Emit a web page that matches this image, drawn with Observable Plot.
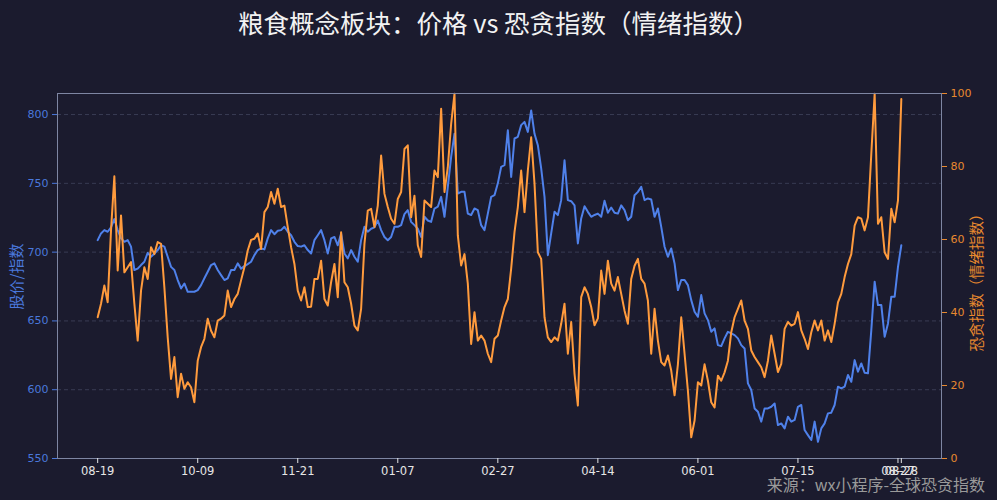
<!DOCTYPE html>
<html><head><meta charset="utf-8">
<script src="https://cdn.jsdelivr.net/npm/d3@7"></script>
<script src="https://cdn.jsdelivr.net/npm/@observablehq/plot@0.6"></script>
<style>
body{margin:0;background:#1b1b2e;}
#wrap{position:relative;width:997px;height:500px;background:#1b1b2e;overflow:hidden;}
#title{position:absolute;top:5px;left:0;width:997px;text-align:center;color:#f2f2f2;font-size:25.5px;font-family:"Noto Sans CJK SC","DejaVu Sans",sans-serif;line-height:34px;}
#cap{position:absolute;right:12px;top:474px;color:#9a9a9a;font-size:16px;font-family:"Noto Sans CJK SC","DejaVu Sans",sans-serif;line-height:20px;}
.ylab{position:absolute;font-family:"Noto Sans CJK SC","DejaVu Sans",sans-serif;font-size:15px;white-space:nowrap;transform-origin:center center;}
#ylL{color:#4a78dc;left:-23px;top:266px;width:76px;text-align:center;transform:rotate(-90deg);}
#ylR{color:#e8892e;left:905px;top:271px;width:140px;text-align:center;transform:rotate(-90deg);font-size:14.5px;}
</style></head><body>
<div id="wrap">
<div id="chart"></div>
<div id="title">粮食概念板块：价格 vs 恐贪指数（情绪指数）</div>
<div id="ylL" class="ylab">股价/指数</div>
<div id="ylR" class="ylab">恐贪指数（情绪指数）</div>
<div id="cap">来源：wx小程序-全球恐贪指数</div>
</div>
<script>
const price = [
708.7,713.6,716,714.8,718,724,716,710,707.5,708.7,
704,687,688,690.6,693,699.5,696.6,699,701.5,705,
704,696.6,689.3,687,679.7,673.6,677.2,671.2,671.2,671.2,
672.4,676,681,685.7,690.6,691.8,687,683.3,679.7,681,
687,687,691.8,688,689.8,691.3,693,697.8,701.5,702.7,
702,710,716,713,715.5,716,718.4,714.8,712.3,707.5,
704.4,704,705,701.5,699,708.7,712.3,716,708.7,699,
710,711,705,713.6,699,695.5,701.5,696.6,693,708.7,
718.4,714.8,717,718,723,716,711,708.7,711,718.4,
718.4,719.6,727.6,730.5,722,719.6,717,711,725.7,723,
722,731.7,733,740.2,725.7,747.5,769.2,786,742.6,743.8,
743.8,728,727,731.7,730.5,719.6,716,728,740.2,741.4,
750,762,763.2,788.6,754.7,782.6,783.8,792.3,794.7,787.4,
803,786,777.7,760.8,740.2,697.8,713.6,729.3,726.9,737.8,
766.8,737.8,737,734,706.3,724.5,733.4,729.3,725.7,727,
728,725.7,737.3,728.6,732.4,728.6,728,734,730.5,723.2,
725.7,741.4,743.8,747.5,737.8,739,738.3,725.7,731.7,718.4,
703.9,696.6,702.7,691.8,672.4,679.7,679.7,676,665.1,656.7,
653,668.8,655.5,650.6,642.1,644.6,632.4,631.7,637.3,642.1,
641,639.7,637.3,632.4,630,604.6,599.8,586.4,584,576.8,
586.4,586.4,587.6,590,574.3,575.5,571.9,580.4,576.8,578,
587.6,588.9,570.7,567,563.4,576.8,562.2,571.9,575.5,582.8,
583.3,588.9,602.2,601,602.2,610.7,605.8,621.5,613.1,619.1,
612.3,611.9,643.3,678.5,661.5,661.5,638.5,648.2,667.6,667.6,
689.3,705
];
const fear = [
38.7,42.4,47.4,42.8,62.5,77.3,51.5,66.6,51,52.4,
53.8,42.4,32.3,46,52.4,49.2,57.9,56,59.3,58.8,
46.9,33.2,21.8,27.8,16.8,23.2,19.1,20.9,19.5,15.4,
26.8,30.5,32.8,38.3,35,33.2,37.8,38.3,39.2,46,
41.5,43.7,45.1,48.8,52.4,57,59.9,60.2,61.6,57.4,
67.5,68.9,73,69.8,73.9,68.9,69.3,63.4,57.9,53.3,
46,43.3,46.9,41.5,41.6,49.2,49.2,54.2,43.7,41.9,
48.3,53.3,44.2,62,48.3,46.9,42.4,36.4,35.1,41,
58.8,67.9,68.4,63.4,69.3,83,72.5,68.9,65.7,64.3,
71.1,73,84.8,85.8,66.1,72,58.4,55.2,70.7,69.8,
68.9,78.9,77.1,95.8,73,79.8,91.7,99.9,61.1,52.9,
56,47.9,31.4,40.1,32.3,33.7,32.3,28.7,26.4,32.8,
33.7,37.8,41.5,43.7,52,62,68.9,78.9,67.5,78.9,
88,75.3,56.5,54.7,38.7,33.2,31.9,33.2,32.3,36.9,
42.4,28.7,37.4,23.2,14.5,44.2,46.9,45.1,41.5,36.5,
38.4,51.5,45.1,54.2,47.9,46,49.7,45.1,40.5,36.9,
49.2,52.8,54.7,49.2,47.9,43.3,28.7,41,32.3,26.4,
25.5,28.2,24.1,17.3,25.8,38.7,28.7,18.6,5.8,10.4,
20.9,20,25.8,21.3,15.4,14,22.7,21.3,23.6,26.8,
34.6,38.7,41,43.3,37.8,35.5,29.6,27.8,26.4,25,
22.3,26.8,33.7,28.7,23.7,25.9,35.5,37.4,36.4,36.9,
40.1,35.1,32.8,30,34.6,37.8,35.1,37.8,32.3,35.1,
31.9,36.9,42.8,45.1,49.7,53.3,56,63.8,66.1,65.7,
62.5,66.1,83.5,99.9,64.3,66.1,56.5,54.7,68.4,64.7,
70.7,98.5
];
const tickIdx = [0,30,60,90,120,150,180,210,240,241];
const tickLabels = ["08-19","10-09","11-21","01-07","02-27","04-14","06-01","07-15","08-27","08-28"];
const leftTicks = [550,600,650,700,750,800];
const rightTicks = [0,20,40,60,80,100];

const yMin = 550, yMax = 815.3;
const toLeft = f => yMin + f * (yMax - yMin) / 100;
const fromLeft = v => (v - yMin) * 100 / (yMax - yMin);
const n = price.length;
const pad = (n - 1) * 0.05;
const priceData = price.map((v, i) => ({i, v}));
const fearData = fear.map((v, i) => ({i, v: toLeft(v)}));
const labelOf = new Map(tickIdx.map((t, k) => [t, tickLabels[k]]));

const chart = Plot.plot({
  width: 997, height: 500,
  marginTop: 93, marginBottom: 42, marginLeft: 57, marginRight: 56,
  style: {background: "transparent", fontFamily: "DejaVu Sans, sans-serif"},
  x: {type: "linear", domain: [-pad, n - 1 + pad], axis: null},
  y: {domain: [yMin, yMax], axis: null},
  marks: [
    Plot.ruleY(leftTicks.filter(t => t > yMin), {stroke: "#3c3f58", strokeWidth: 0.9, strokeDasharray: "4,3"}),
    Plot.line(priceData, {x: "i", y: "v", stroke: "#4f81ea", strokeWidth: 2}),
    Plot.line(fearData, {x: "i", y: "v", stroke: "#ff9b3d", strokeWidth: 2}),
    Plot.frame({stroke: "#7e86a2", strokeWidth: 1}),
    Plot.axisY(leftTicks, {anchor: "left", color: "#4a78dc", tickSize: 5, tickPadding: 4, fontSize: 11, label: null}),
    Plot.axisY(rightTicks.map(toLeft), {anchor: "right", color: "#e8892e", tickSize: 5, tickPadding: 4, fontSize: 11, label: null, tickFormat: d => String(Math.round(fromLeft(d)))}),
    Plot.axisX(tickIdx, {anchor: "bottom", color: "#e6e6e6", tickSize: 5, tickPadding: 3, fontSize: 11.5, label: null, tickFormat: d => labelOf.get(d)})
  ]
});
document.getElementById("chart").appendChild(chart);
</script>
</body></html>
